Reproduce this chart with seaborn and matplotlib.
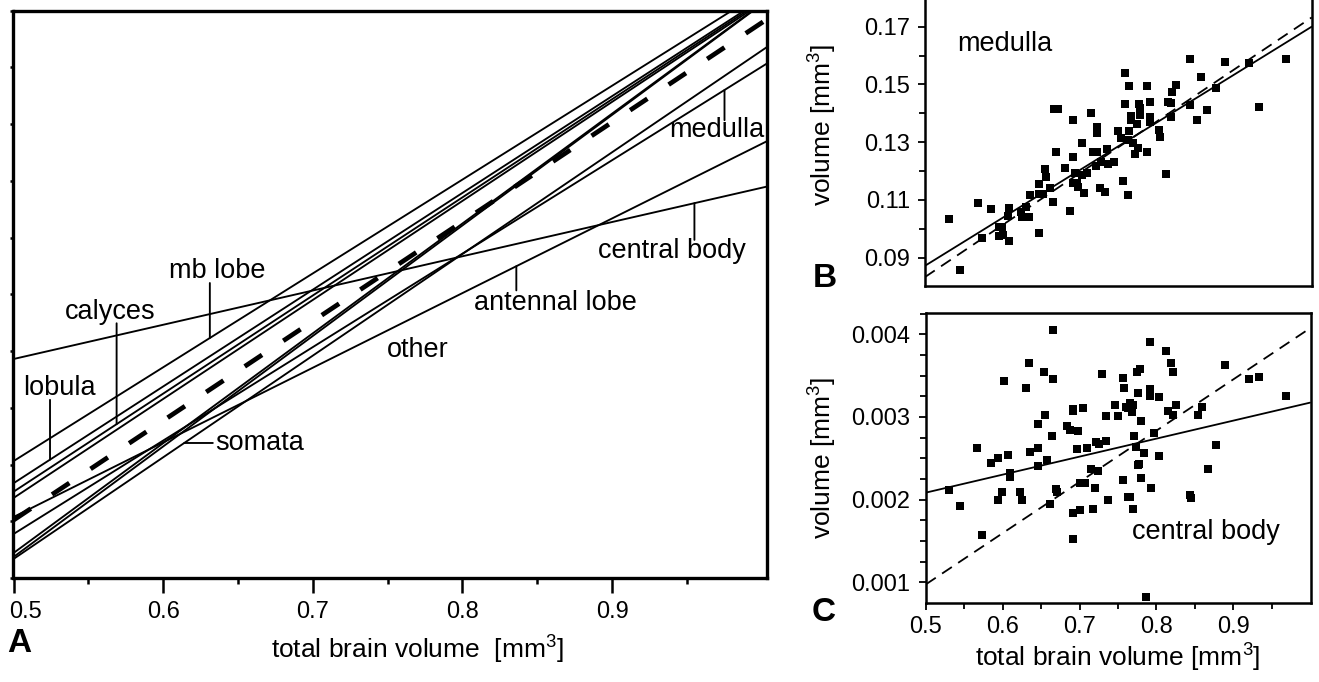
import matplotlib
matplotlib.use("Agg")
import matplotlib.pyplot as plt
from matplotlib.ticker import FixedLocator, NullFormatter, MultipleLocator
import matplotlib.transforms as mtransforms
import numpy as np
import pandas as pd
import seaborn as sns

# ---------------- Panel A: allometric lines ----------------
a_names = ["mb lobe", "lobula", "calyces", "line 4", "antennal lobe", "medulla",
           "somata", "line 8", "line 9", "central body"]
a_x_ends = [0.5, 1.0035]
a_y_left = [2.06, 1.67, 1.52, 1.41, 1.075, 0.775, 0.335, 0.44, 0.37, 3.86]
a_y_right = [10.39, 10.26, 10.23, 10.20, 7.70, 9.07, 9.36, 10.19, 10.18, 6.90]
a_total_y = [1.02, 9.85]

a_label_text = ["lobula", "calyces", "mb lobe", "somata", "other",
                "antennal lobe", "central body", "medulla"]
a_label_x = [0.531, 0.5644, 0.6359, 0.6346, 0.770, 0.8623, 0.9397, 0.9698]
a_label_y = [3.35, 4.69, 5.41, 2.38, 4.02, 4.85, 5.76, 7.89]
# vertical leader lines: label -> (x of leader, y where leader starts at text)
a_leader_x = {"lobula": 0.5244, "calyces": 0.5689, "mb lobe": 0.6312,
              "antennal lobe": 0.836, "central body": 0.955, "medulla": 0.9751}
a_leader_y0 = {"lobula": 3.14, "calyces": 4.49, "mb lobe": 5.20,
               "antennal lobe": 5.07, "central body": 5.96, "medulla": 8.07}
a_xticks = [0.5, 0.6, 0.7, 0.8, 0.9]
a_xtick_labels = ["0.5", "0.6", "0.7", "0.8", "0.9"]

# ---------------- Panel B: medulla ----------------
b_x = [0.531, 0.545, 0.568, 0.574, 0.585, 0.596, 0.599, 0.596, 0.601, 0.609,
       0.609, 0.607, 0.624, 0.625, 0.631, 0.631, 0.635, 0.636, 0.647, 0.647,
       0.647, 0.652, 0.655, 0.657, 0.662, 0.665, 0.667, 0.672, 0.669, 0.681,
       0.688, 0.691, 0.692, 0.691, 0.694, 0.697, 0.698, 0.703, 0.703, 0.706,
       0.709, 0.715, 0.717, 0.721, 0.723, 0.723, 0.723, 0.726, 0.728, 0.733,
       0.735, 0.737, 0.745, 0.749, 0.754, 0.756, 0.758, 0.759, 0.762, 0.763,
       0.764, 0.764, 0.766, 0.767, 0.769, 0.772, 0.774, 0.775, 0.777, 0.778,
       0.778, 0.787, 0.787, 0.791, 0.791, 0.791, 0.802, 0.804, 0.811, 0.814,
       0.818, 0.818, 0.820, 0.824, 0.843, 0.843, 0.852, 0.857, 0.865, 0.876,
       0.888, 0.919, 0.932, 0.967]
b_y = [0.1033, 0.0857, 0.1090, 0.0967, 0.1067, 0.1007, 0.1007, 0.0975, 0.0978, 0.1073,
       0.0959, 0.1045, 0.1059, 0.1040, 0.1077, 0.1040, 0.1040, 0.1117, 0.1155, 0.1119,
       0.0984, 0.1119, 0.1206, 0.1178, 0.1140, 0.1094, 0.1416, 0.1416, 0.1265, 0.1212,
       0.1060, 0.1250, 0.1377, 0.1157, 0.1192, 0.1157, 0.1146, 0.1298, 0.1186, 0.1123,
       0.1192, 0.1400, 0.1267, 0.1217, 0.1351, 0.1331, 0.1267, 0.1140, 0.1232, 0.1129,
       0.1276, 0.1223, 0.1230, 0.1340, 0.1313, 0.1166, 0.1538, 0.1432, 0.1117, 0.1308,
       0.1495, 0.1339, 0.1377, 0.1391, 0.1296, 0.1258, 0.1363, 0.1279, 0.1431, 0.1417,
       0.1394, 0.1495, 0.1266, 0.1440, 0.1388, 0.1371, 0.1342, 0.1319, 0.1189, 0.1440,
       0.1434, 0.1388, 0.1475, 0.1498, 0.1587, 0.1429, 0.1377, 0.1527, 0.1411, 0.1489,
       0.1576, 0.1575, 0.1421, 0.1588]
b_line_x = [0.5, 1.0]
b_fit_y = [0.0872, 0.1700]
b_iso_y = [0.0833, 0.1732]
b_yticks = [0.09, 0.11, 0.13, 0.15, 0.17]

# ---------------- Panel C: central body ----------------
c_x = [0.530, 0.544, 0.567, 0.573, 0.584, 0.594, 0.594, 0.599, 0.601, 0.607,
       0.609, 0.609, 0.623, 0.625, 0.630, 0.634, 0.635, 0.646, 0.646, 0.646,
       0.653, 0.655, 0.657, 0.661, 0.664, 0.666, 0.669, 0.671, 0.666, 0.683,
       0.687, 0.691, 0.692, 0.692, 0.692, 0.696, 0.698, 0.701, 0.701, 0.705,
       0.707, 0.709, 0.715, 0.717, 0.720, 0.722, 0.724, 0.725, 0.729, 0.734,
       0.735, 0.737, 0.746, 0.750, 0.756, 0.756, 0.758, 0.760, 0.763, 0.763,
       0.766, 0.766, 0.768, 0.769, 0.770, 0.771, 0.774, 0.775, 0.776, 0.776,
       0.777, 0.779, 0.780, 0.780, 0.784, 0.787, 0.792, 0.792, 0.792, 0.792,
       0.793, 0.797, 0.803, 0.804, 0.813, 0.815, 0.819, 0.821, 0.821, 0.825,
       0.844, 0.845, 0.854, 0.859, 0.867, 0.877, 0.889, 0.921, 0.934, 0.969]
c_y = [0.002117, 0.001923, 0.002621, 0.001573, 0.002448, 0.002508, 0.001996, 0.002089, 0.003435, 0.002540,
       0.002327, 0.002278, 0.002089, 0.001996, 0.003355, 0.003649, 0.002581, 0.002621, 0.002911, 0.002407,
       0.003548, 0.003024, 0.002480, 0.001944, 0.002774, 0.003456, 0.002125, 0.002097, 0.004052, 0.002891,
       0.002843, 0.003093, 0.001835, 0.001520, 0.003077, 0.002613, 0.002835, 0.001875, 0.002206, 0.003105,
       0.002206, 0.002621, 0.002371, 0.001883, 0.002137, 0.002702, 0.002347, 0.002673, 0.003516, 0.002714,
       0.003012, 0.001996, 0.003145, 0.003012, 0.003476, 0.002238, 0.003355, 0.003125, 0.002036, 0.003105,
       0.003165, 0.002036, 0.003065, 0.001883, 0.003145, 0.002774, 0.002641, 0.003548, 0.003294, 0.002419,
       0.002427, 0.003581, 0.002258, 0.002956, 0.002561, 0.000827, 0.003911, 0.003335, 0.003294, 0.003258,
       0.002137, 0.002811, 0.002528, 0.003246, 0.003802, 0.003073, 0.003657, 0.003548, 0.003024, 0.003145,
       0.002057, 0.002024, 0.003024, 0.003125, 0.002367, 0.002661, 0.003629, 0.003456, 0.003488, 0.003258]
c_line_x = [0.5, 1.0]
c_fit_y = [0.002085, 0.003173]
c_iso_y = [0.000976, 0.004073]
c_yticks = [0.001, 0.002, 0.003, 0.004]
c_ytick_labels = ["0.001", "0.002", "0.003", "0.004"]
c_xticks = [0.5, 0.6, 0.7, 0.8, 0.9]

# ---------------- style ----------------
sns.set_theme(style="ticks")
plt.rcParams["font.family"] = ["Liberation Sans", "DejaVu Sans"]
plt.rcParams["mathtext.fontset"] = "custom"
plt.rcParams["mathtext.rm"] = "Liberation Sans"
plt.rcParams["mathtext.it"] = "Liberation Sans:italic"
plt.rcParams["mathtext.bf"] = "Liberation Sans:bold"
plt.rcParams["axes.edgecolor"] = "black"
plt.rcParams["xtick.color"] = "black"
plt.rcParams["ytick.color"] = "black"
plt.rcParams["xtick.labelcolor"] = "black"
plt.rcParams["ytick.labelcolor"] = "black"
plt.rcParams["text.color"] = "black"
plt.rcParams["axes.labelcolor"] = "black"

TXT = 19.5
TICK = 17
LAB = 19
LW = 1.35

W, H = 1319, 682
fig = plt.figure(figsize=(W / 100, H / 100), dpi=100)

def px_axes(left, right, top, bottom):
    return fig.add_axes([left / W, 1 - bottom / H, (right - left) / W, (bottom - top) / H])

# ---------------- Panel A ----------------
axA = px_axes(13.5, 767, 10.7, 578)
rows = []
for n, yl, yr in zip(a_names, a_y_left, a_y_right):
    rows.append({"line": n, "x": a_x_ends[0], "y": yl})
    rows.append({"line": n, "x": a_x_ends[1], "y": yr})
dfA = pd.DataFrame(rows)
sns.lineplot(data=dfA, x="x", y="y", units="line", estimator=None, color="black",
             lw=LW, ax=axA, legend=False)
dfT = pd.DataFrame({"x": a_x_ends, "y": a_total_y})
sns.lineplot(data=dfT, x="x", y="y", color="black", lw=3.4, ax=axA,
             linestyle=(0, (4.4, 5.4)), dash_capstyle="butt")
axA.set_xlim(0.5, 1.0035)
axA.set_ylim(0, 10)

def a_line_y(name, x):
    i = a_names.index(name)
    return a_y_left[i] + (a_y_right[i] - a_y_left[i]) * (x - a_x_ends[0]) / (a_x_ends[1] - a_x_ends[0])

for t, x, y in zip(a_label_text, a_label_x, a_label_y):
    if t == "somata":
        axA.text(x, y, t, fontsize=TXT, ha="left", va="center", color="black")
        i = a_names.index("somata")
        xs = a_x_ends[0] + (y - a_y_left[i]) * (a_x_ends[1] - a_x_ends[0]) / (a_y_right[i] - a_y_left[i])
        axA.annotate("", xy=(xs, y), xytext=(x - 0.0014, y),
                     arrowprops=dict(arrowstyle="-", lw=LW, color="black", shrinkA=0, shrinkB=0))
    else:
        axA.text(x, y, t, fontsize=TXT, ha="center", va="center", color="black")
    if t in a_leader_x:
        lx = a_leader_x[t]
        axA.annotate("", xy=(lx, a_line_y(t, lx)), xytext=(lx, a_leader_y0[t]),
                     arrowprops=dict(arrowstyle="-", lw=LW, color="black", shrinkA=0, shrinkB=0))

axA.xaxis.set_major_locator(FixedLocator(a_xticks))
axA.set_xticklabels(a_xtick_labels)
axA.xaxis.set_minor_locator(FixedLocator([0.55, 0.65, 0.75, 0.85, 0.95]))
axA.yaxis.set_major_locator(MultipleLocator(1))
axA.yaxis.set_major_formatter(NullFormatter())
axA.tick_params(axis="x", which="major", direction="out", length=11, width=1.8,
                labelsize=TICK, pad=5.5, labelcolor="black")
axA.tick_params(axis="x", which="minor", direction="out", length=4.5, width=1.8)
axA.tick_params(axis="y", which="major", direction="out", length=2.2, width=1.8)
for s in axA.spines.values():
    s.set_linewidth(2.4)
# first tick label sits just right of the axis corner
first = axA.get_xticklabels()[0]
first.set_ha("left")
first.set_transform(first.get_transform() +
                    mtransforms.ScaledTranslation(-4 / 100, 0, fig.dpi_scale_trans))
axA.set_xlabel("")
axA.set_ylabel("")
fig.text(417 / W, 1 - 650 / H, "total brain volume  [mm$^3$]", fontsize=LAB,
         ha="center", va="center", color="black")
fig.text(7 / W, 1 - 652 / H, "A", fontsize=24, fontweight="bold", ha="left",
         va="baseline", color="black")

# ---------------- Panel B ----------------
axB = px_axes(925, 1311.7, -2.2, 286)
sns.scatterplot(x=b_x, y=b_y, marker="s", s=36, color="black", linewidth=0, ax=axB)
sns.lineplot(x=b_line_x, y=b_fit_y, color="black", lw=1.3, ax=axB)
sns.lineplot(x=b_line_x, y=b_iso_y, color="black", lw=1.3, ax=axB,
             linestyle=(0, (6.5, 4.2)))
axB.set_xlim(0.5, 1.0)
axB.set_ylim(0.0802, 0.18)
axB.yaxis.set_major_locator(FixedLocator(b_yticks))
axB.set_yticklabels(["0.09", "0.11", "0.13", "0.15", "0.17"])
axB.yaxis.set_minor_locator(FixedLocator([0.10, 0.12, 0.14, 0.16]))
axB.set_xticks([])
axB.tick_params(axis="y", which="major", direction="out", length=5, width=1.3,
                labelsize=TICK, pad=5.5, labelcolor="black")
axB.tick_params(axis="y", which="minor", direction="out", length=4, width=1.3)
axB.spines["top"].set_visible(False)
for s in axB.spines.values():
    s.set_linewidth(1.8)
axB.text(0.6034, 0.1640, "medulla", fontsize=TXT, ha="center", va="center", color="black")
fig.text(823 / W, 1 - 125 / H, "volume [mm$^3$]", fontsize=LAB, rotation=90,
         ha="center", va="center", color="black")
fig.text(813 / W, 1 - 287 / H, "B", fontsize=24, fontweight="bold", ha="left",
         va="baseline", color="black")

# ---------------- Panel C ----------------
axC = px_axes(926, 1311, 313.3, 602.7)
sns.scatterplot(x=c_x, y=c_y, marker="s", s=36, color="black", linewidth=0, ax=axC)
sns.lineplot(x=c_line_x, y=c_fit_y, color="black", lw=1.3, ax=axC)
sns.lineplot(x=c_line_x, y=c_iso_y, color="black", lw=1.3, ax=axC,
             linestyle=(0, (6.5, 4.2)))
axC.set_xlim(0.5, 1.0013)
axC.set_ylim(0.000753, 0.004254)
axC.xaxis.set_major_locator(FixedLocator(c_xticks))
axC.set_xticklabels(["0.5", "0.6", "0.7", "0.8", "0.9"])
axC.xaxis.set_minor_locator(FixedLocator([0.55, 0.65, 0.75, 0.85, 0.95]))
axC.yaxis.set_major_locator(FixedLocator(c_yticks))
axC.set_yticklabels(c_ytick_labels)
axC.yaxis.set_minor_locator(MultipleLocator(0.00025))
axC.tick_params(axis="both", which="major", direction="out", length=5, width=1.3,
                labelsize=TICK, labelcolor="black")
axC.tick_params(axis="x", which="major", pad=4.5)
axC.tick_params(axis="y", which="major", pad=6.5)
axC.tick_params(axis="both", which="minor", direction="out", length=4, width=1.3)
for s in axC.spines.values():
    s.set_linewidth(1.8)
axC.text(0.8646, 0.001609, "central body", fontsize=TXT, ha="center", va="center", color="black")
fig.text(823 / W, 1 - 458 / H, "volume [mm$^3$]", fontsize=LAB, rotation=90,
         ha="center", va="center", color="black")
fig.text(1118 / W, 1 - 658 / H, "total brain volume [mm$^3$]", fontsize=LAB,
         ha="center", va="center", color="black")
fig.text(812 / W, 1 - 621 / H, "C", fontsize=24, fontweight="bold", ha="left",
         va="baseline", color="black")

for ax in (axB, axC):
    ax.set_xlabel("")
    ax.set_ylabel("")

fig.savefig("out.png", dpi=100, facecolor="white")
